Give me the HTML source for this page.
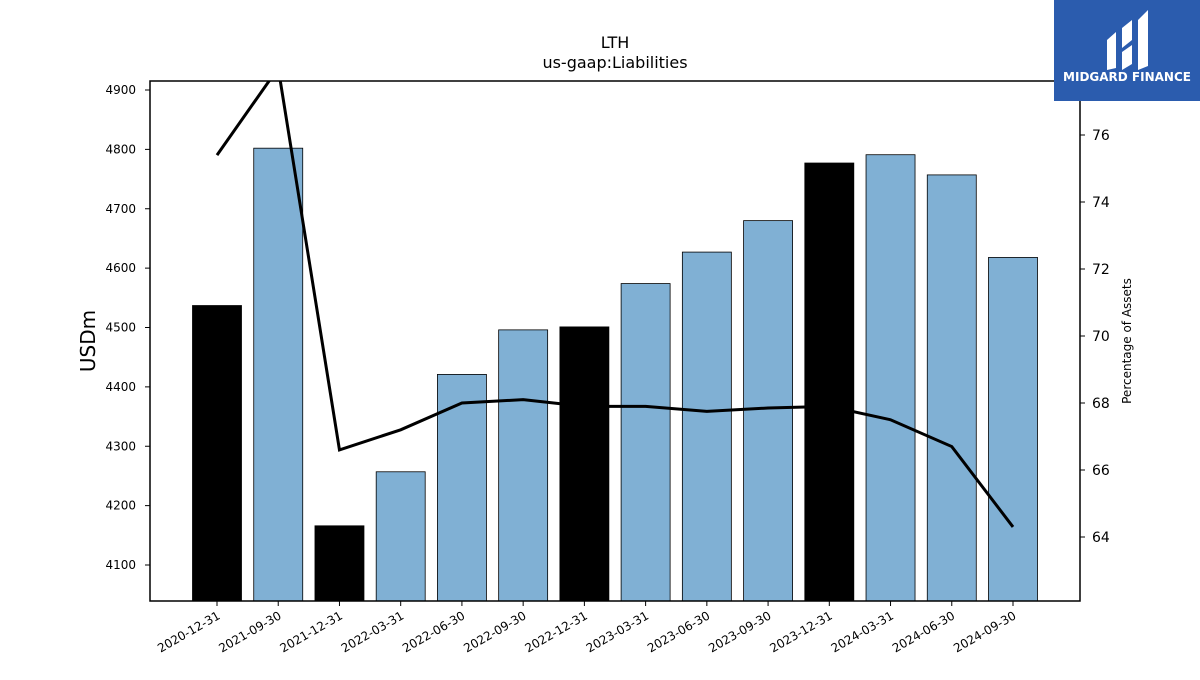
<!DOCTYPE html>
<html><head><meta charset="utf-8"><style>
body{margin:0;background:#fff;font-family:"Liberation Sans","DejaVu Sans",sans-serif;}
svg text{font-family:"DejaVu Sans","Liberation Sans",sans-serif;}
</style></head><body>
<svg id="chart" width="1200" height="675" xmlns="http://www.w3.org/2000/svg">
<defs><clipPath id="pc"><rect x="150" y="81" width="930" height="520"/></clipPath></defs>
<rect width="1200" height="675" fill="#fff"/>
<text x="615" y="48" font-size="16" text-anchor="middle">LTH</text>
<text x="615" y="68" font-size="16" text-anchor="middle">us-gaap:Liabilities</text>
<g id="bars"></g>
<g id="line" clip-path="url(#pc)"></g>
<rect x="150" y="81" width="930" height="520" fill="none" stroke="#000" stroke-width="1.5"/>
<g id="ly"></g>
<g id="ry"></g>
<g id="xa"></g>
<text transform="translate(95,341) rotate(-90)" font-size="20" text-anchor="middle">USDm</text>
<text transform="translate(1131,341) rotate(-90)" font-size="12" text-anchor="middle">Percentage of Assets</text>
<g>
<rect x="1054" y="0" width="146" height="101" fill="#2b5cae"/>
<path d="M1107 40 L1116 32 L1116 68 L1107 70 Z M1122 28 L1132 20 L1132 40 L1122 48 Z M1122 52 L1132 45 L1132 64 L1122 70 Z M1138 20 L1148 10 L1148 66 L1138 70 Z" fill="#fff"/>
<text x="1127" y="81" font-size="12" font-weight="bold" fill="#fff" text-anchor="middle">MIDGARD FINANCE</text>
</g>
</svg>
<script>
const categories=["2020-12-31","2021-09-30","2021-12-31","2022-03-31","2022-06-30","2022-09-30","2022-12-31","2023-03-31","2023-06-30","2023-09-30","2023-12-31","2024-03-31","2024-06-30","2024-09-30"];
const liabilities=[4537,4802,4166,4257,4421,4496,4501,4574,4627,4680,4777,4791,4757,4618];
const pctAssets=[75.4,78.0,66.6,67.2,68.0,68.1,67.9,67.9,67.75,67.85,67.9,67.5,66.7,64.3];
const highlighted=[1,0,1,0,0,0,1,0,0,0,1,0,0,0];
const leftTicks=[4100,4200,4300,4400,4500,4600,4700,4800,4900];
const rightTicks=[64,66,68,70,72,74,76];
const NS="http://www.w3.org/2000/svg";
const yL=v=>90+(4900-v)*0.59375;
const yR=v=>135+(76-v)*33.5;
const xC=i=>217+i*(1013-217)/(categories.length-1);
function mk(t,a,p){const e=document.createElementNS(NS,t);for(const k in a)e.setAttribute(k,a[k]);p.appendChild(e);return e;}
const bars=document.getElementById('bars');
liabilities.forEach((v,i)=>{const r=mk('rect',{x:xC(i)-24.5,y:yL(v),width:49,height:601-yL(v),fill:highlighted[i]?'#000':'#80b0d4',stroke:'#000','stroke-width':0.8},bars);

});
const ln=document.getElementById('line');
const pl=mk('polyline',{points:pctAssets.map((v,i)=>xC(i)+','+yR(v)).join(' '),fill:'none',stroke:'#000','stroke-width':3},ln);


const ly=document.getElementById('ly');
leftTicks.forEach(v=>{const y=yL(v);mk('line',{x1:145,x2:150,y1:y,y2:y,stroke:'#000'},ly);
const t=mk('text',{x:136,y:y+4,'font-size':12,'text-anchor':'end'},ly);t.textContent=v;

});
const ry=document.getElementById('ry');
rightTicks.forEach(v=>{const y=yR(v);mk('line',{x1:1080,x2:1085,y1:y,y2:y,stroke:'#000'},ry);
const t=mk('text',{x:1092,y:y+5,'font-size':14},ry);t.textContent=v;

});
const xa=document.getElementById('xa');
categories.forEach((c,i)=>{const x=xC(i);mk('line',{x1:x,x2:x,y1:601,y2:606,stroke:'#000'},xa);
const t=mk('text',{transform:`translate(${x+4},618) rotate(-30)`,'font-size':12,'text-anchor':'end'},xa);t.textContent=c;

});
</script>
</body></html>
